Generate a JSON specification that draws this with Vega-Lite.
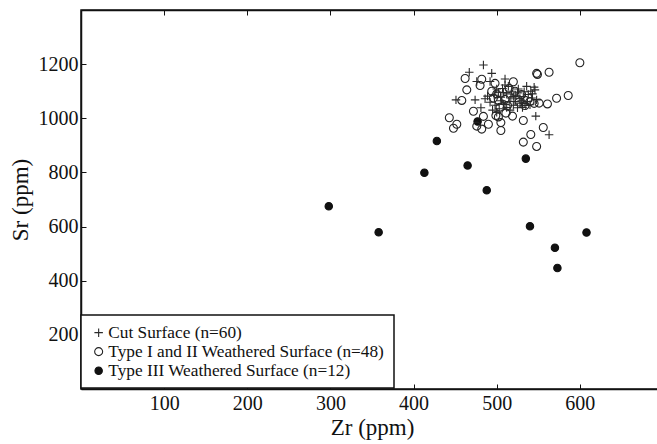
{
  "$schema": "https://vega.github.io/schema/vega-lite/v6.json",
  "width": 582,
  "height": 379,
  "autosize": {"type": "none"},
  "padding": {"left": 81, "top": 10, "right": 0, "bottom": 55},
  "background": "white",
  "config": {
    "view": {"stroke": "#111", "strokeWidth": 1.5},
    "font": "Liberation Serif",
    "axis": {
      "grid": false,
      "domainColor": "#111",
      "domainWidth": 1.5,
      "tickColor": "#111",
      "tickWidth": 1,
      "tickSize": -5,
      "labelFont": "Liberation Serif",
      "labelFontSize": 20,
      "labelColor": "#111",
      "titleFont": "Liberation Serif",
      "titleFontSize": 23,
      "titleFontWeight": "normal",
      "titleColor": "#111"
    },
    "legend": {
      "orient": "none",
      "legendX": 0,
      "legendY": 305,
      "strokeColor": "#111",
      "strokeWidth": 1.5,
      "fillColor": "white",
      "padding": 9,
      "labelFont": "Liberation Serif",
      "labelFontSize": 17.3,
      "labelColor": "#111",
      "labelLimit": 400,
      "symbolOffset": 0,
      "labelOffset": 1,
      "rowPadding": 1,
      "symbolStrokeWidth": 1.1
    }
  },
  "data": {
    "values": [
      {"zr": 298, "sr": 675, "g": "Type III Weathered Surface (n=12)"},
      {"zr": 358, "sr": 579, "g": "Type III Weathered Surface (n=12)"},
      {"zr": 413, "sr": 799, "g": "Type III Weathered Surface (n=12)"},
      {"zr": 428, "sr": 916, "g": "Type III Weathered Surface (n=12)"},
      {"zr": 465, "sr": 826, "g": "Type III Weathered Surface (n=12)"},
      {"zr": 477, "sr": 988, "g": "Type III Weathered Surface (n=12)"},
      {"zr": 488, "sr": 734, "g": "Type III Weathered Surface (n=12)"},
      {"zr": 535, "sr": 851, "g": "Type III Weathered Surface (n=12)"},
      {"zr": 540, "sr": 601, "g": "Type III Weathered Surface (n=12)"},
      {"zr": 570, "sr": 522, "g": "Type III Weathered Surface (n=12)"},
      {"zr": 573, "sr": 447, "g": "Type III Weathered Surface (n=12)"},
      {"zr": 608, "sr": 578, "g": "Type III Weathered Surface (n=12)"},
      {"zr": 600, "sr": 1205, "g": "Type I and II Weathered Surface (n=48)"},
      {"zr": 563, "sr": 1170, "g": "Type I and II Weathered Surface (n=48)"},
      {"zr": 548, "sr": 1166, "g": "Type I and II Weathered Surface (n=48)"},
      {"zr": 549, "sr": 1162, "g": "Type I and II Weathered Surface (n=48)"},
      {"zr": 520, "sr": 1135, "g": "Type I and II Weathered Surface (n=48)"},
      {"zr": 462, "sr": 1147, "g": "Type I and II Weathered Surface (n=48)"},
      {"zr": 482, "sr": 1144, "g": "Type I and II Weathered Surface (n=48)"},
      {"zr": 480, "sr": 1121, "g": "Type I and II Weathered Surface (n=48)"},
      {"zr": 498, "sr": 1129, "g": "Type I and II Weathered Surface (n=48)"},
      {"zr": 464, "sr": 1105, "g": "Type I and II Weathered Surface (n=48)"},
      {"zr": 494, "sr": 1100, "g": "Type I and II Weathered Surface (n=48)"},
      {"zr": 458, "sr": 1066, "g": "Type I and II Weathered Surface (n=48)"},
      {"zr": 472, "sr": 1026, "g": "Type I and II Weathered Surface (n=48)"},
      {"zr": 443, "sr": 1002, "g": "Type I and II Weathered Surface (n=48)"},
      {"zr": 452, "sr": 978, "g": "Type I and II Weathered Surface (n=48)"},
      {"zr": 448, "sr": 963, "g": "Type I and II Weathered Surface (n=48)"},
      {"zr": 484, "sr": 1007, "g": "Type I and II Weathered Surface (n=48)"},
      {"zr": 476, "sr": 971, "g": "Type I and II Weathered Surface (n=48)"},
      {"zr": 482, "sr": 960, "g": "Type I and II Weathered Surface (n=48)"},
      {"zr": 490, "sr": 978, "g": "Type I and II Weathered Surface (n=48)"},
      {"zr": 505, "sr": 984, "g": "Type I and II Weathered Surface (n=48)"},
      {"zr": 505, "sr": 955, "g": "Type I and II Weathered Surface (n=48)"},
      {"zr": 499, "sr": 1010, "g": "Type I and II Weathered Surface (n=48)"},
      {"zr": 502, "sr": 1005, "g": "Type I and II Weathered Surface (n=48)"},
      {"zr": 511, "sr": 1019, "g": "Type I and II Weathered Surface (n=48)"},
      {"zr": 519, "sr": 1008, "g": "Type I and II Weathered Surface (n=48)"},
      {"zr": 532, "sr": 992, "g": "Type I and II Weathered Surface (n=48)"},
      {"zr": 541, "sr": 940, "g": "Type I and II Weathered Surface (n=48)"},
      {"zr": 532, "sr": 912, "g": "Type I and II Weathered Surface (n=48)"},
      {"zr": 548, "sr": 896, "g": "Type I and II Weathered Surface (n=48)"},
      {"zr": 556, "sr": 966, "g": "Type I and II Weathered Surface (n=48)"},
      {"zr": 572, "sr": 1074, "g": "Type I and II Weathered Surface (n=48)"},
      {"zr": 586, "sr": 1084, "g": "Type I and II Weathered Surface (n=48)"},
      {"zr": 561, "sr": 1053, "g": "Type I and II Weathered Surface (n=48)"},
      {"zr": 551, "sr": 1056, "g": "Type I and II Weathered Surface (n=48)"},
      {"zr": 530, "sr": 1088, "g": "Type I and II Weathered Surface (n=48)"},
      {"zr": 522, "sr": 1100, "g": "Type I and II Weathered Surface (n=48)"},
      {"zr": 502, "sr": 1066, "g": "Type I and II Weathered Surface (n=48)"},
      {"zr": 504, "sr": 1041, "g": "Type I and II Weathered Surface (n=48)"},
      {"zr": 513, "sr": 1047, "g": "Type I and II Weathered Surface (n=48)"},
      {"zr": 534, "sr": 1047, "g": "Type I and II Weathered Surface (n=48)"},
      {"zr": 500, "sr": 1090, "g": "Type I and II Weathered Surface (n=48)"},
      {"zr": 540, "sr": 1062, "g": "Type I and II Weathered Surface (n=48)"},
      {"zr": 527, "sr": 1060, "g": "Type I and II Weathered Surface (n=48)"},
      {"zr": 510, "sr": 1070, "g": "Type I and II Weathered Surface (n=48)"},
      {"zr": 496, "sr": 1075, "g": "Type I and II Weathered Surface (n=48)"},
      {"zr": 515, "sr": 1110, "g": "Type I and II Weathered Surface (n=48)"},
      {"zr": 545, "sr": 1055, "g": "Type I and II Weathered Surface (n=48)"},
      {"zr": 484, "sr": 1197, "g": "Cut Surface (n=60)"},
      {"zr": 467, "sr": 1170, "g": "Cut Surface (n=60)"},
      {"zr": 494, "sr": 1166, "g": "Cut Surface (n=60)"},
      {"zr": 476, "sr": 1136, "g": "Cut Surface (n=60)"},
      {"zr": 492, "sr": 1136, "g": "Cut Surface (n=60)"},
      {"zr": 510, "sr": 1145, "g": "Cut Surface (n=60)"},
      {"zr": 510, "sr": 1123, "g": "Cut Surface (n=60)"},
      {"zr": 545, "sr": 1115, "g": "Cut Surface (n=60)"},
      {"zr": 541, "sr": 1100, "g": "Cut Surface (n=60)"},
      {"zr": 538, "sr": 1088, "g": "Cut Surface (n=60)"},
      {"zr": 451, "sr": 1068, "g": "Cut Surface (n=60)"},
      {"zr": 474, "sr": 1068, "g": "Cut Surface (n=60)"},
      {"zr": 492, "sr": 1059, "g": "Cut Surface (n=60)"},
      {"zr": 481, "sr": 1039, "g": "Cut Surface (n=60)"},
      {"zr": 500, "sr": 1022, "g": "Cut Surface (n=60)"},
      {"zr": 502, "sr": 1096, "g": "Cut Surface (n=60)"},
      {"zr": 517, "sr": 1075, "g": "Cut Surface (n=60)"},
      {"zr": 508, "sr": 1053, "g": "Cut Surface (n=60)"},
      {"zr": 525, "sr": 1039, "g": "Cut Surface (n=60)"},
      {"zr": 548, "sr": 1068, "g": "Cut Surface (n=60)"},
      {"zr": 547, "sr": 1008, "g": "Cut Surface (n=60)"},
      {"zr": 563, "sr": 939, "g": "Cut Surface (n=60)"},
      {"zr": 520, "sr": 1080, "g": "Cut Surface (n=60)"},
      {"zr": 528, "sr": 1072, "g": "Cut Surface (n=60)"},
      {"zr": 533, "sr": 1055, "g": "Cut Surface (n=60)"},
      {"zr": 535, "sr": 1047, "g": "Cut Surface (n=60)"},
      {"zr": 510, "sr": 1051, "g": "Cut Surface (n=60)"},
      {"zr": 528, "sr": 1056, "g": "Cut Surface (n=60)"},
      {"zr": 543, "sr": 1090, "g": "Cut Surface (n=60)"},
      {"zr": 546, "sr": 1105, "g": "Cut Surface (n=60)"},
      {"zr": 497, "sr": 1085, "g": "Cut Surface (n=60)"},
      {"zr": 505, "sr": 1078, "g": "Cut Surface (n=60)"},
      {"zr": 512, "sr": 1090, "g": "Cut Surface (n=60)"},
      {"zr": 515, "sr": 1062, "g": "Cut Surface (n=60)"},
      {"zr": 522, "sr": 1062, "g": "Cut Surface (n=60)"},
      {"zr": 530, "sr": 1065, "g": "Cut Surface (n=60)"},
      {"zr": 505, "sr": 1065, "g": "Cut Surface (n=60)"},
      {"zr": 498, "sr": 1048, "g": "Cut Surface (n=60)"},
      {"zr": 489, "sr": 1082, "g": "Cut Surface (n=60)"},
      {"zr": 518, "sr": 1100, "g": "Cut Surface (n=60)"},
      {"zr": 525, "sr": 1094, "g": "Cut Surface (n=60)"},
      {"zr": 532, "sr": 1080, "g": "Cut Surface (n=60)"},
      {"zr": 537, "sr": 1062, "g": "Cut Surface (n=60)"},
      {"zr": 540, "sr": 1050, "g": "Cut Surface (n=60)"},
      {"zr": 520, "sr": 1048, "g": "Cut Surface (n=60)"},
      {"zr": 512, "sr": 1040, "g": "Cut Surface (n=60)"},
      {"zr": 503, "sr": 1035, "g": "Cut Surface (n=60)"},
      {"zr": 495, "sr": 1030, "g": "Cut Surface (n=60)"},
      {"zr": 486, "sr": 1072, "g": "Cut Surface (n=60)"},
      {"zr": 500, "sr": 1108, "g": "Cut Surface (n=60)"},
      {"zr": 507, "sr": 1110, "g": "Cut Surface (n=60)"},
      {"zr": 514, "sr": 1118, "g": "Cut Surface (n=60)"},
      {"zr": 526, "sr": 1108, "g": "Cut Surface (n=60)"},
      {"zr": 533, "sr": 1098, "g": "Cut Surface (n=60)"},
      {"zr": 523, "sr": 1085, "g": "Cut Surface (n=60)"},
      {"zr": 542, "sr": 1075, "g": "Cut Surface (n=60)"},
      {"zr": 531, "sr": 1040, "g": "Cut Surface (n=60)"},
      {"zr": 516, "sr": 1030, "g": "Cut Surface (n=60)"},
      {"zr": 508, "sr": 1095, "g": "Cut Surface (n=60)"},
      {"zr": 536, "sr": 1118, "g": "Cut Surface (n=60)"}
    ]
  },
  "layer": [
    {
      "mark": {"type": "point", "opacity": 1, "strokeWidth": 1.1},
      "encoding": {
        "x": {
          "field": "zr", "type": "quantitative",
          "scale": {"domain": [0, 700], "nice": false, "zero": false},
          "axis": {"orient": "bottom", "values": [100, 200, 300, 400, 500, 600], "format": "d", "title": "Zr (ppm)", "labelPadding": 9, "titlePadding": 3}
        },
        "y": {
          "field": "sr", "type": "quantitative",
          "scale": {"domain": [0, 1400], "nice": false, "zero": false},
          "axis": {"orient": "left", "values": [200, 400, 600, 800, 1000, 1200], "format": "d", "title": "Sr (ppm)", "labelPadding": 8, "titlePadding": 6}
        },
        "shape": {
          "field": "g", "type": "nominal",
          "scale": {
            "domain": ["Cut Surface (n=60)", "Type I and II Weathered Surface (n=48)", "Type III Weathered Surface (n=12)"],
            "range": ["M-1,0L1,0M0,-1L0,1", "circle", "circle"]
          },
          "legend": {"title": null}
        },
        "fill": {
          "field": "g", "type": "nominal",
          "scale": {
            "domain": ["Cut Surface (n=60)", "Type I and II Weathered Surface (n=48)", "Type III Weathered Surface (n=12)"],
            "range": ["transparent", "transparent", "#111"]
          },
          "legend": {"title": null}
        },
        "stroke": {
          "field": "g", "type": "nominal",
          "scale": {
            "domain": ["Cut Surface (n=60)", "Type I and II Weathered Surface (n=48)", "Type III Weathered Surface (n=12)"],
            "range": ["#2a2a2a", "#222222", "#111111"]
          },
          "legend": {"title": null}
        },
        "size": {
          "field": "g", "type": "nominal",
          "scale": {
            "domain": ["Cut Surface (n=60)", "Type I and II Weathered Surface (n=48)", "Type III Weathered Surface (n=12)"],
            "range": [72, 55, 66]
          },
          "legend": {"title": null}
        }
      }
    },
    {
      "mark": {"type": "point", "opacity": 0},
      "encoding": {
        "x": {
          "field": "zr", "type": "quantitative",
          "scale": {"domain": [0, 700], "nice": false, "zero": false},
          "axis": {"orient": "top", "values": [100, 200, 300, 400, 500, 600], "labels": false, "title": null}
        },
        "y": {
          "field": "sr", "type": "quantitative",
          "scale": {"domain": [0, 1400], "nice": false, "zero": false},
          "axis": {"orient": "right", "values": [200, 400, 600, 800, 1000, 1200], "labels": false, "title": null}
        }
      }
    }
  ],
  "resolve": {"axis": {"x": "independent", "y": "independent"}}
}
